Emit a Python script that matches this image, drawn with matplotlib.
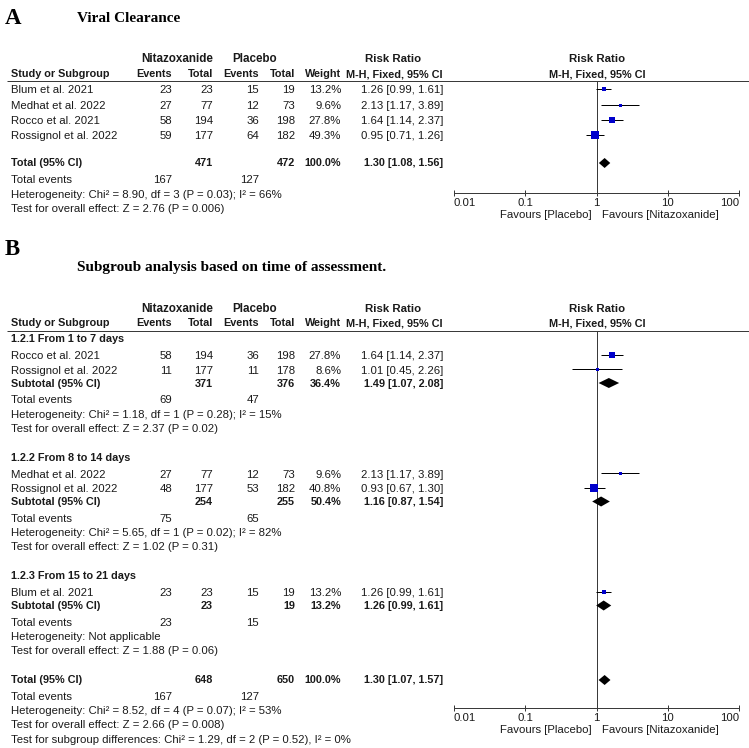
import matplotlib
matplotlib.use("Agg")
import matplotlib.pyplot as plt

# ---------------- data ----------------
# Panel A: Viral clearance
A_study = ["Blum et al. 2021", "Medhat et al. 2022", "Rocco et al. 2021", "Rossignol et al. 2022"]
A_nit_ev = [23, 27, 58, 59]
A_nit_tot = [23, 77, 194, 177]
A_pla_ev = [15, 12, 36, 64]
A_pla_tot = [19, 73, 198, 182]
A_weight = [13.2, 9.6, 27.8, 49.3]
A_rr = [1.26, 2.13, 1.64, 0.95]
A_lo = [0.99, 1.17, 1.14, 0.71]
A_hi = [1.61, 3.89, 2.37, 1.26]
A_total = [471, 472, 100.0, 1.30, 1.08, 1.56]   # nit total, pla total, weight, rr, lo, hi
A_total_events = [167, 127]
A_het = "Heterogeneity: Chi\u00b2 = 8.90, df = 3 (P = 0.03); I\u00b2 = 66%"
A_test = "Test for overall effect: Z = 2.76 (P = 0.006)"

# Panel B: subgroups by time of assessment
B_sub_name = ["1.2.1 From 1 to 7 days", "1.2.2 From 8 to 14 days", "1.2.3 From 15 to 21 days"]
B_group = [0, 0, 1, 1, 2]
B_study = ["Rocco et al. 2021", "Rossignol et al. 2022", "Medhat et al. 2022", "Rossignol et al. 2022", "Blum et al. 2021"]
B_nit_ev = [58, 11, 27, 48, 23]
B_nit_tot = [194, 177, 77, 177, 23]
B_pla_ev = [36, 11, 12, 53, 15]
B_pla_tot = [198, 178, 73, 182, 19]
B_weight = [27.8, 8.6, 9.6, 40.8, 13.2]
B_rr = [1.64, 1.01, 2.13, 0.93, 1.26]
B_lo = [1.14, 0.45, 1.17, 0.67, 0.99]
B_hi = [2.37, 2.26, 3.89, 1.30, 1.61]
B_sub_nit_tot = [371, 254, 23]
B_sub_pla_tot = [376, 255, 19]
B_sub_weight = [36.4, 50.4, 13.2]
B_sub_rr = [1.49, 1.16, 1.26]
B_sub_lo = [1.07, 0.87, 0.99]
B_sub_hi = [2.08, 1.54, 1.61]
B_sub_nit_ev = [69, 75, 23]
B_sub_pla_ev = [47, 65, 15]
B_sub_het = ["Heterogeneity: Chi\u00b2 = 1.18, df = 1 (P = 0.28); I\u00b2 = 15%",
             "Heterogeneity: Chi\u00b2 = 5.65, df = 1 (P = 0.02); I\u00b2 = 82%",
             "Heterogeneity: Not applicable"]
B_sub_test = ["Test for overall effect: Z = 2.37 (P = 0.02)",
              "Test for overall effect: Z = 1.02 (P = 0.31)",
              "Test for overall effect: Z = 1.88 (P = 0.06)"]
B_total = [648, 650, 100.0, 1.30, 1.07, 1.57]
B_total_events = [167, 127]
B_het = "Heterogeneity: Chi\u00b2 = 8.52, df = 4 (P = 0.07); I\u00b2 = 53%"
B_test = "Test for overall effect: Z = 2.66 (P = 0.008)"
B_diff = "Test for subgroup differences: Chi\u00b2 = 1.29, df = 2 (P = 0.52), I\u00b2 = 0%"

x_ticks = [0.01, 0.1, 1, 10, 100]
x_ticklabels = ["0.01", "0.1", "1", "10", "100"]
favours_left = "Favours [Placebo]"
favours_right = "Favours [Nitazoxanide]"

# ---------------- layout ----------------
W, H = 749, 748
DPI = 100
FS = 8.2
FSB = 7.8
FONT = "Liberation Sans"
SERIF = "Liberation Serif"
TXT = "#1a1a1a"
LINE = "#3a3a3a"
BLUE = "#0000cc"
LW = 0.72

X_LABEL = 11
X_NEV, X_NTOT, X_PEV, X_PTOT, X_W, X_CI = 172, 213, 259, 295, 341, 443
X_NIT_C, X_PLA_C, X_RR_C = 177, 255, 393
PLOT_L, PLOT_R = 454, 739

fig = plt.figure(figsize=(W / DPI, H / DPI), dpi=DPI)
fig.patch.set_facecolor("white")
tax = fig.add_axes([0, 0, 1, 1])
tax.set_xlim(0, W)
tax.set_ylim(H, 0)
tax.axis("off")


def t(x, y, s, ha="left", bold=False, size=None, family=FONT, color=TXT):
    if size is None:
        size = FSB if bold else FS
    tax.text(x, y, s, ha=ha, va="center", fontsize=size, family=family,
             fontweight="bold" if bold else "normal", color=color)


def ci_str(rr, lo, hi):
    return f"{rr:.2f} [{lo:.2f}, {hi:.2f}]"


def header(y1, y2, yline):
    t(X_NIT_C, y1, "Nitazoxanide", ha="center", bold=True, size=8.4)
    t(X_PLA_C, y1, "Placebo", ha="center", bold=True, size=8.4)
    t(X_RR_C, y1, "Risk Ratio", ha="center", bold=True, size=8.2)
    t((PLOT_L + PLOT_R) / 2 + 0.5, y1, "Risk Ratio", ha="center", bold=True, size=8.2)
    t(X_LABEL, y2, "Study or Subgroup", bold=True)
    t(X_NEV, y2, "Events", ha="right", bold=True)
    t(X_NTOT, y2, "Total", ha="right", bold=True)
    t(X_PEV, y2, "Events", ha="right", bold=True)
    t(X_PTOT, y2, "Total", ha="right", bold=True)
    t(X_W, y2, "Weight", ha="right", bold=True)
    t(X_CI, y2, "M-H, Fixed, 95% CI", ha="right", bold=True)
    t((PLOT_L + PLOT_R) / 2 + 0.5, y2, "M-H, Fixed, 95% CI", ha="center", bold=True)
    tax.plot([7, W], [yline, yline], color=LINE, lw=LW, solid_capstyle="butt")


def study_row(y, name, ne, nt, pe, pt, w, rr, lo, hi):
    t(X_LABEL, y, name)
    t(X_NEV, y, str(ne), ha="right")
    t(X_NTOT, y, str(nt), ha="right")
    t(X_PEV, y, str(pe), ha="right")
    t(X_PTOT, y, str(pt), ha="right")
    t(X_W, y, f"{w:.1f}%", ha="right")
    t(X_CI, y, ci_str(rr, lo, hi), ha="right")


def total_row(y, label, nt, pt, w, rr, lo, hi):
    t(X_LABEL, y, label, bold=True)
    t(X_NTOT, y, str(nt), ha="right", bold=True)
    t(X_PTOT, y, str(pt), ha="right", bold=True)
    t(X_W, y, f"{w:.1f}%", ha="right", bold=True)
    t(X_CI, y, ci_str(rr, lo, hi), ha="right", bold=True)


def events_row(y, ne, pe):
    t(X_LABEL, y, "Total events")
    t(X_NEV, y, str(ne), ha="right")
    t(X_PEV, y, str(pe), ha="right")


def make_plot_axes(ytop, ybot):
    ax = fig.add_axes([PLOT_L / W, 1 - ybot / H, (PLOT_R - PLOT_L) / W, (ybot - ytop) / H])
    ax.set_xscale("log")
    ax.set_xlim(0.01, 100)
    ax.set_ylim(ybot, ytop)
    ax.patch.set_alpha(0)
    for s in ("top", "left", "right"):
        ax.spines[s].set_visible(False)
    ax.spines["bottom"].set_color(LINE)
    ax.spines["bottom"].set_linewidth(LW)
    ax.set_yticks([])
    ax.set_xticks(x_ticks)
    ax.set_xticklabels(x_ticklabels, fontsize=FS, family=FONT, color=TXT)
    ax.minorticks_off()
    ax.tick_params(axis="x", direction="inout", length=5, width=LW, color=LINE, pad=1)
    labs = ax.get_xticklabels()
    labs[0].set_ha("left")
    labs[-1].set_ha("right")
    ax.axvline(1, color=LINE, lw=LW, zorder=1)
    t(592, ybot + 22, favours_left, ha="right")
    t(602, ybot + 22, favours_right, ha="left")
    return ax


def square(ax, y, rr, lo, hi, w):
    ax.plot([lo, hi], [y, y], color="black", lw=LW, zorder=2, solid_capstyle="butt")
    side = max(3.0, 8.0 * (w / 49.3) ** 0.65)
    ax.scatter([rr], [y], marker="s", s=(side * 0.72) ** 2, color=BLUE, linewidths=0, zorder=3)


def diamond(ax, y, rr, lo, hi):
    ax.fill([lo, rr, hi, rr], [y, y - 5, y, y + 5], color="black", lw=0, zorder=3)


# ---------------- Panel A ----------------
t(5, 18, "A", bold=True, size=16.5, family=SERIF, color="black")
t(77, 18, "Viral Clearance", bold=True, size=11, family=SERIF, color="black")
header(59, 74, 81)
axA = make_plot_axes(81, 193)
yA_rows = [90, 105.5, 121, 136]
for i in range(len(A_study)):
    y = yA_rows[i]
    study_row(y, A_study[i], A_nit_ev[i], A_nit_tot[i], A_pla_ev[i], A_pla_tot[i],
              A_weight[i], A_rr[i], A_lo[i], A_hi[i])
    square(axA, y - 1, A_rr[i], A_lo[i], A_hi[i], A_weight[i])
total_row(163, "Total (95% CI)", A_total[0], A_total[1], A_total[2], A_total[3], A_total[4], A_total[5])
diamond(axA, 163, A_total[3], A_total[4], A_total[5])
events_row(180, A_total_events[0], A_total_events[1])
t(X_LABEL, 194.5, A_het)
t(X_LABEL, 209, A_test)

# ---------------- Panel B ----------------
t(5, 249, "B", bold=True, size=16.5, family=SERIF, color="black")
t(77, 267, "Subgroub analysis based on time of assessment.", bold=True, size=11, family=SERIF, color="black")
header(309, 323, 330.5)
axB = make_plot_axes(331, 708)

y = 339
for g in range(len(B_sub_name)):
    t(X_LABEL, y, B_sub_name[g], bold=True)
    y += 17
    first = True
    for i in range(len(B_study)):
        if B_group[i] != g:
            continue
        if not first:
            y += 14.5
        first = False
        study_row(y, B_study[i], B_nit_ev[i], B_nit_tot[i], B_pla_ev[i], B_pla_tot[i],
                  B_weight[i], B_rr[i], B_lo[i], B_hi[i])
        square(axB, y - 1.5, B_rr[i], B_lo[i], B_hi[i], B_weight[i])
    y += 13
    total_row(y, "Subtotal (95% CI)", B_sub_nit_tot[g], B_sub_pla_tot[g], B_sub_weight[g],
              B_sub_rr[g], B_sub_lo[g], B_sub_hi[g])
    diamond(axB, y - 0.5, B_sub_rr[g], B_sub_lo[g], B_sub_hi[g])
    y += 16.5
    events_row(y, B_sub_nit_ev[g], B_sub_pla_ev[g])
    y += 14.5
    t(X_LABEL, y, B_sub_het[g])
    y += 14
    t(X_LABEL, y, B_sub_test[g])
    y += 29

total_row(y, "Total (95% CI)", B_total[0], B_total[1], B_total[2], B_total[3], B_total[4], B_total[5])
diamond(axB, y, B_total[3], B_total[4], B_total[5])
y += 16.5
events_row(y, B_total_events[0], B_total_events[1])
y += 14.5
t(X_LABEL, y, B_het)
y += 14.5
t(X_LABEL, y, B_test)
y += 14.5
t(X_LABEL, y, B_diff)

fig.savefig("out.png", dpi=DPI, facecolor="white")
